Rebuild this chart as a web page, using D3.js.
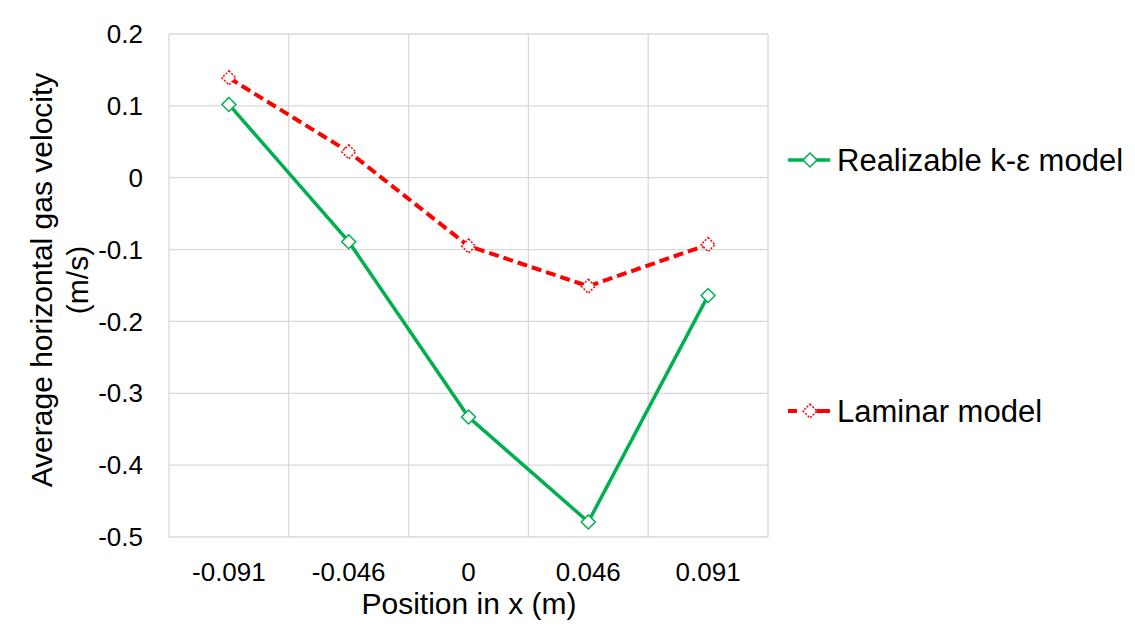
<!DOCTYPE html>
<html>
<head>
<meta charset="utf-8">
<script src="https://cdn.jsdelivr.net/npm/d3@7"></script>
<style>
  html, body { margin: 0; padding: 0; background: #fff; }
  svg { display: block; font-family: "Liberation Sans", Arial, sans-serif; }
</style>
</head>
<body>
<div id="chart"></div>
<script>
// data
const positions = ["-0.091", "-0.046", "0", "0.046", "0.091"];
const realizable = [0.102, -0.089, -0.333, -0.479, -0.164];
const laminar = [0.139, 0.036, -0.095, -0.151, -0.093];
const yTicks = [0.2, 0.1, 0, -0.1, -0.2, -0.3, -0.4, -0.5];

const series = [
    { name: "Realizable k-ε model", values: realizable, color: "#00B050", dash: null, legendY: 160 },
    { name: "Laminar model", values: laminar, color: "#FF0000", dash: "10,5", legendY: 411 }
];

const W = 1135, H = 636;
const plot = { left: 169, right: 768, top: 34, bottom: 537 };

const svg = d3.select("#chart")
    .append("svg")
    .attr("width", W)
    .attr("height", H);

const x = d3.scaleBand()
    .domain(positions)
    .range([plot.left, plot.right])
    .padding(0);

const y = d3.scaleLinear()
    .domain([-0.5, 0.2])
    .range([plot.bottom, plot.top]);

const cx = d => x(d) + x.bandwidth() / 2;

// gridlines
const grid = svg.append("g").attr("class", "grid");
grid.selectAll("line.h")
    .data(yTicks)
    .enter()
    .append("line")
    .attr("x1", plot.left).attr("x2", plot.right)
    .attr("y1", d => y(d)).attr("y2", d => y(d))
    .attr("stroke", "#d9d9d9").attr("stroke-width", 1.3);

grid.selectAll("line.v")
    .data(positions)
    .enter()
    .append("line")
    .attr("x1", d => x(d)).attr("x2", d => x(d))
    .attr("y1", plot.top).attr("y2", plot.bottom)
    .attr("stroke", "#d9d9d9").attr("stroke-width", 1.3);

grid.append("line")
    .attr("x1", plot.right).attr("x2", plot.right)
    .attr("y1", plot.top).attr("y2", plot.bottom)
    .attr("stroke", "#d9d9d9").attr("stroke-width", 1.3);

// y axis labels
svg.append("g")
    .selectAll("text")
    .data(yTicks)
    .enter()
    .append("text")
    .attr("x", 143)
    .attr("y", d => y(d))
    .attr("dy", "0.35em")
    .attr("text-anchor", "end")
    .style("font-size", "26px")
    .attr("fill", "#000")
    .text(d => d === 0 ? "0" : d.toFixed(1));

// x axis labels
svg.append("g")
    .selectAll("text")
    .data(positions)
    .enter()
    .append("text")
    .attr("x", d => cx(d))
    .attr("y", 581)
    .attr("text-anchor", "middle")
    .style("font-size", "26px")
    .attr("fill", "#000")
    .text(d => d);

// axis titles
svg.append("text")
    .attr("x", 469)
    .attr("y", 614)
    .attr("text-anchor", "middle")
    .style("font-size", "30px")
    .text("Position in x (m)");

const yTitle = svg.append("text")
    .attr("transform", "translate(0, 280) rotate(-90)")
    .attr("text-anchor", "middle")
    .style("font-size", "30px");
yTitle.append("tspan").attr("x", 0).attr("y", 52).text("Average horizontal gas velocity");
yTitle.append("tspan").attr("x", 0).attr("y", 88).text("(m/s)");

// lines and markers
const line = d3.line()
    .x((d, i) => cx(positions[i]))
    .y(d => y(d));

const diamond = s => `M0,${-s}L${s},0L0,${s}L${-s},0Z`;

series.forEach(s => {
    svg.append("path")
        .datum(s.values)
        .attr("d", line)
        .attr("fill", "none")
        .attr("stroke", s.color)
        .attr("stroke-width", s.dash ? 4 : 3.5)
        .attr("stroke-dasharray", s.dash);

    svg.append("g")
        .selectAll("path")
        .data(s.values)
        .enter()
        .append("path")
        .attr("transform", (d, i) => `translate(${cx(positions[i])},${y(d)})`)
        .attr("d", diamond(7))
        .attr("fill", "#fff")
        .attr("stroke", s.color)
        .attr("stroke-width", 1.5)
        .attr("stroke-dasharray", s.dash ? "2,1.5" : null);

    // legend
    const lg = svg.append("g").attr("transform", `translate(0, ${s.legendY})`);
    lg.append("line")
        .attr("x1", 788).attr("x2", 830)
        .attr("y1", 0).attr("y2", 0)
        .attr("stroke", s.color)
        .attr("stroke-width", s.dash ? 4 : 3.5)
        .attr("stroke-dasharray", s.dash ? "9,8,25" : null);
    lg.append("path")
        .attr("transform", "translate(810,0)")
        .attr("d", diamond(7))
        .attr("fill", "#fff")
        .attr("stroke", s.color)
        .attr("stroke-width", 1.5)
        .attr("stroke-dasharray", s.dash ? "2,1.5" : null);
    lg.append("text")
        .attr("x", 837)
        .attr("y", 0)
        .attr("dy", "0.36em")
        .style("font-size", "31px")
        .attr("fill", "#000")
        .text(s.name);
});
</script>
</body>
</html>
